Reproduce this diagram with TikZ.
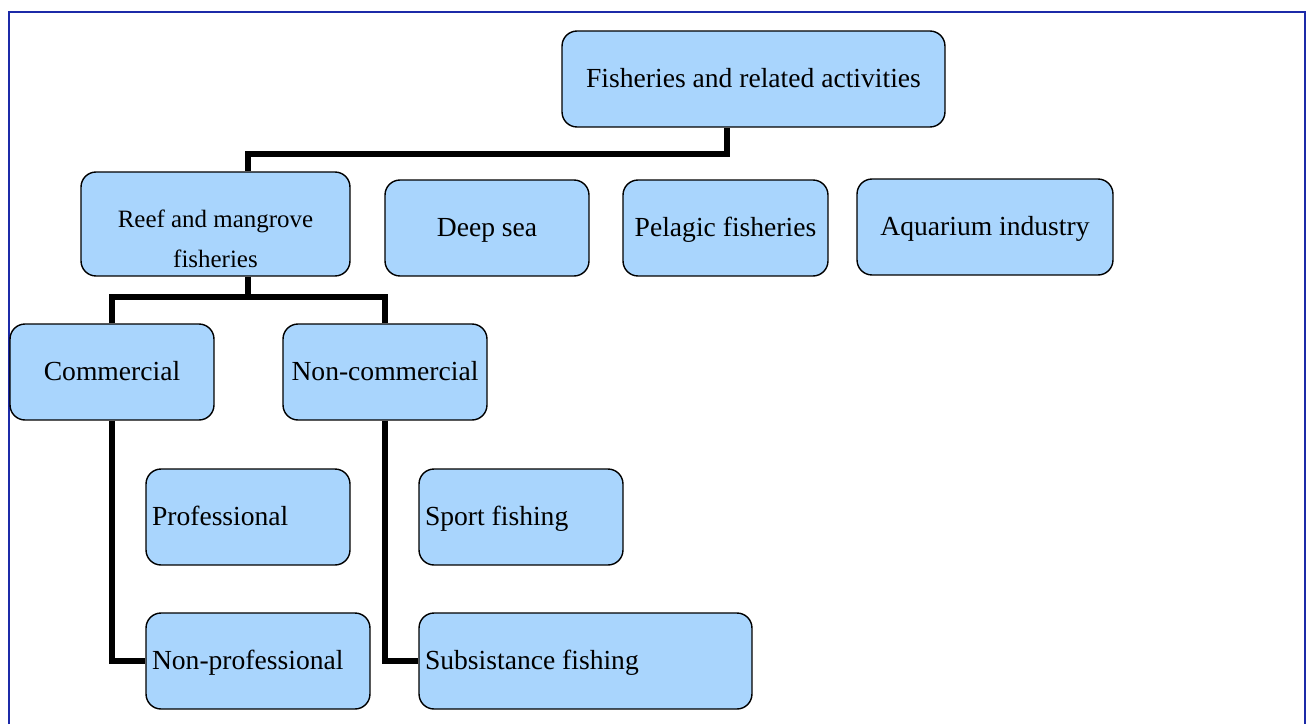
\documentclass[tikz,border=0pt]{standalone}
\usepackage{fontspec}
\setmainfont{Liberation Serif}
\usetikzlibrary{calc}
\definecolor{boxblue}{RGB}{169,213,253}
\definecolor{framenavy}{RGB}{28,42,168}
\tikzstyle{box} = [rectangle, rounded corners=0.3cm, minimum width=4.08cm, minimum height=1.92cm, text centered, text height=10.4pt, text depth=0.2pt, draw=black, line width=0.8pt, fill=boxblue, font=\fontsize{15.7}{19}\selectfont]
\tikzstyle{box_left} = [box, align=flush left, inner xsep=0.12cm, text width=3.84cm]
\tikzstyle{link} = [line width=3.4pt, line join=miter]

\begin{document}
\begin{tikzpicture}[x=0.02cm, y=-0.02cm]
        \useasboundingbox (0,0) rectangle (1309,724);
        \draw [framenavy, line width=1.2pt] (9,724) -- (9,12) -- (1305,12) -- (1305,724);
        \node (top) [box, minimum width=7.66cm] at (753.5,79) {Fisheries and related activities};
        \node (reef) [box, minimum width=5.38cm, minimum height=2.08cm, align=center, inner ysep=0pt, text height=1.9cm, text depth=0.14cm, font=\fontsize{14.2}{22.8}\selectfont] at (215.5,224) {Reef and mangrove\\fisheries};
        \node (deep) [box] at (487,228) {Deep sea};
        \node (pelagic) [box, minimum width=4.1cm] at (725.5,228) {Pelagic fisheries};
        \node (aquarium) [box, minimum width=5.12cm] at (985,227) {Aquarium industry};
        \node (commercial) [box] at (112,372) {Commercial};
        \node (noncommercial) [box] at (385,372) {Non-commercial};
        \node (professional) [box_left] at (248,517) {Professional};
        \node (sport) [box_left] at (521,517) {Sport fishing};
        \node (nonprof) [box_left, text width=4.24cm] at (258,661) {Non-professional};
        \node (subsist) [box_left, text width=6.42cm] at (585.5,661) {Subsistance fishing};
        \draw [link] ($(top.south)+(-26.5,0)$) -- ++(0,26) -| ($(reef.north)+(32.5,0)$);
        \draw [link] ($(reef.south)+(32.5,0)$) -- ++(0,22);
        \draw [link] (commercial.north) -- ++(0,-26) -| (noncommercial.north);
        \draw [link] (commercial.south) |- (nonprof.west);
        \draw [link] (noncommercial.south) |- (subsist.west);
    \end{tikzpicture}
\end{document}
